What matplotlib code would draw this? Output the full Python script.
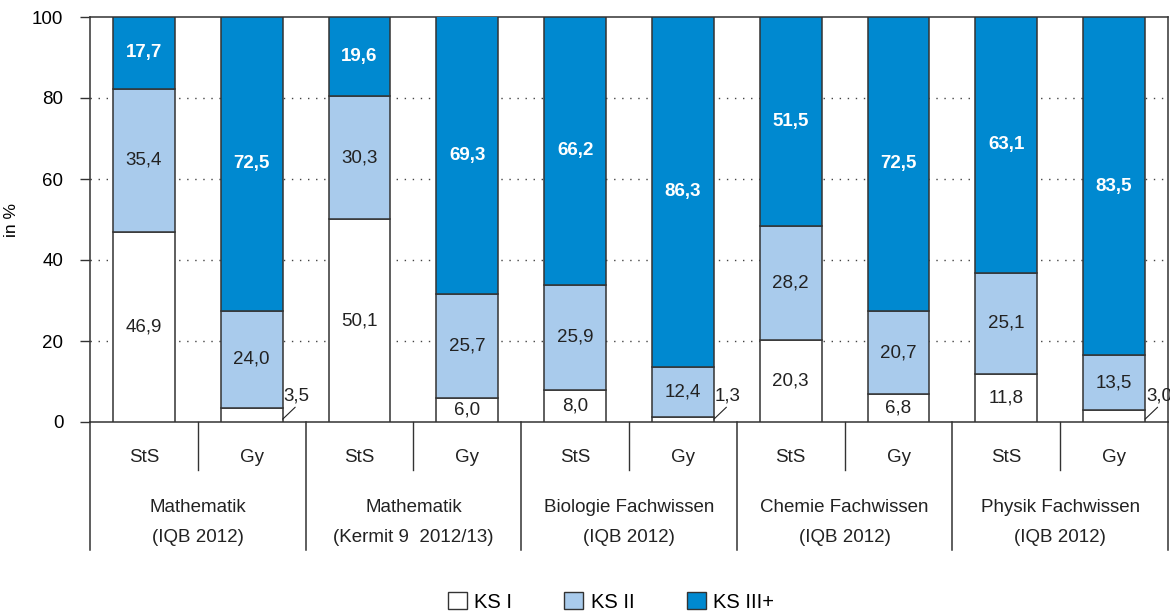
import matplotlib
matplotlib.use("Agg")
import matplotlib.pyplot as plt
import matplotlib.transforms as mtransforms
from matplotlib.lines import Line2D
from matplotlib.patches import Patch

plt.rcParams['font.family'] = ['Liberation Sans', 'DejaVu Sans']

schools = ["StS", "Gy", "StS", "Gy", "StS", "Gy", "StS", "Gy", "StS", "Gy"]
groups = ["Mathematik\n(IQB 2012)", "Mathematik\n(Kermit 9  2012/13)",
          "Biologie Fachwissen\n(IQB 2012)", "Chemie Fachwissen\n(IQB 2012)",
          "Physik Fachwissen\n(IQB 2012)"]
ks1 = [46.9, 3.5, 50.1, 6.0, 8.0, 1.3, 20.3, 6.8, 11.8, 3.0]
ks2 = [35.4, 24.0, 30.3, 25.7, 25.9, 12.4, 28.2, 20.7, 25.1, 13.5]
ks3 = [17.7, 72.5, 19.6, 69.3, 66.2, 86.3, 51.5, 72.5, 63.1, 83.5]
series_names = ["KS I", "KS II", "KS III+"]
yticks = [0, 20, 40, 60, 80, 100]

c1, c2, c3 = "#ffffff", "#a9cbec", "#0089d0"
edge = "#333333"
txt = "#222222"
fs = 13.5

def fmt(v):
    return f"{v:.1f}".replace(".", ",")

fig = plt.figure(figsize=(11.7, 6.14), dpi=100)
ax = fig.add_axes([90/1170, 1-422/614, (1168-90)/1170, (422-17)/614])

x = list(range(len(schools)))
w = 0.575
ax.bar(x, ks1, w, color=c1, edgecolor=edge, linewidth=1.1, zorder=3)
ax.bar(x, ks2, w, bottom=ks1, color=c2, edgecolor=edge, linewidth=1.1, zorder=3)
bot3 = [a + b for a, b in zip(ks1, ks2)]
ax.bar(x, ks3, w, bottom=bot3, color=c3, edgecolor=edge, linewidth=1.1, zorder=3)

ax.set_xlim(-0.5, len(schools) - 0.5)
ax.set_ylim(0, 100)
ax.set_yticks(yticks)
ax.set_yticklabels([str(t) for t in yticks], fontsize=fs)
ax.tick_params(axis='y', direction='out', length=7.2, width=1, color=edge, pad=12)
ax.set_xticks([])
ax.set_ylabel("in %", fontsize=fs - 1)
ax.yaxis.set_label_coords((19 - 90) / 1078, (422 - 220) / 405)
for t in yticks[1:-1]:
    ax.axhline(t, color="#444444", lw=1, ls=(0, (1, 4.8)), zorder=1)
for s in ax.spines.values():
    s.set_color(edge)
    s.set_linewidth(1.1)

# value labels
for i in range(len(schools)):
    v1, v2, v3 = ks1[i], ks2[i], ks3[i]
    if v1 >= 5:
        ax.text(i, v1 / 2, fmt(v1), ha='center', va='center', fontsize=fs, color=txt, zorder=5)
    else:
        ax.annotate('', xy=(i + w / 2, 0.7), xytext=(9.0, 8.6), textcoords='offset points',
                    arrowprops=dict(arrowstyle='-', color=txt, lw=0.8, shrinkA=0, shrinkB=0),
                    zorder=5)
        ax.annotate(fmt(v1), xy=(i + w / 2, 0.7), xytext=(10, 10.5), textcoords='offset points',
                    ha='center', va='bottom', fontsize=fs, color=txt, zorder=5)
    ax.text(i, v1 + v2 / 2, fmt(v2), ha='center', va='center', fontsize=fs, color=txt, zorder=5)
    top3 = min(100, v1 + v2 + v3)
    ax.text(i, (v1 + v2 + top3) / 2, fmt(v3), ha='center', va='center', fontsize=fs,
            color="white", fontweight='bold', zorder=5)

# category axis below
trans = mtransforms.blended_transform_factory(ax.transData, ax.transAxes)
y_school = (422 - 458) / 405
y_g1 = (422 - 508) / 405
y_g2 = (422 - 537) / 405
y_sub = (422 - 470) / 405
y_grp = (422 - 550) / 405
for i, s in enumerate(schools):
    ax.text(i, y_school, s, transform=trans, ha='center', va='center', fontsize=fs, color=txt)
for g, name in enumerate(groups):
    cx = 2 * g + 0.5
    l1, l2 = name.split("\n")
    ax.text(cx, y_g1, l1, transform=trans, ha='center', va='center', fontsize=fs, color=txt)
    ax.text(cx, y_g2, l2, transform=trans, ha='center', va='center', fontsize=fs, color=txt)
    ax.add_line(Line2D([cx, cx], [0, y_sub], transform=trans, color=edge, lw=1, clip_on=False))
for k in range(len(groups) + 1):
    xx = 2 * k - 0.5
    ax.add_line(Line2D([xx, xx], [0, y_grp], transform=trans, color=edge, lw=1.1, clip_on=False))

handles = [Patch(facecolor=c, edgecolor=edge, linewidth=1) for c in (c1, c2, c3)]
fig.legend(handles, series_names, loc='center', bbox_to_anchor=(0.522, 0.02), ncol=3,
           frameon=False, fontsize=fs + 1, handlelength=0.95, handleheight=0.95,
           handletextpad=0.35, columnspacing=2.6)

fig.savefig("out.png", dpi=100)
